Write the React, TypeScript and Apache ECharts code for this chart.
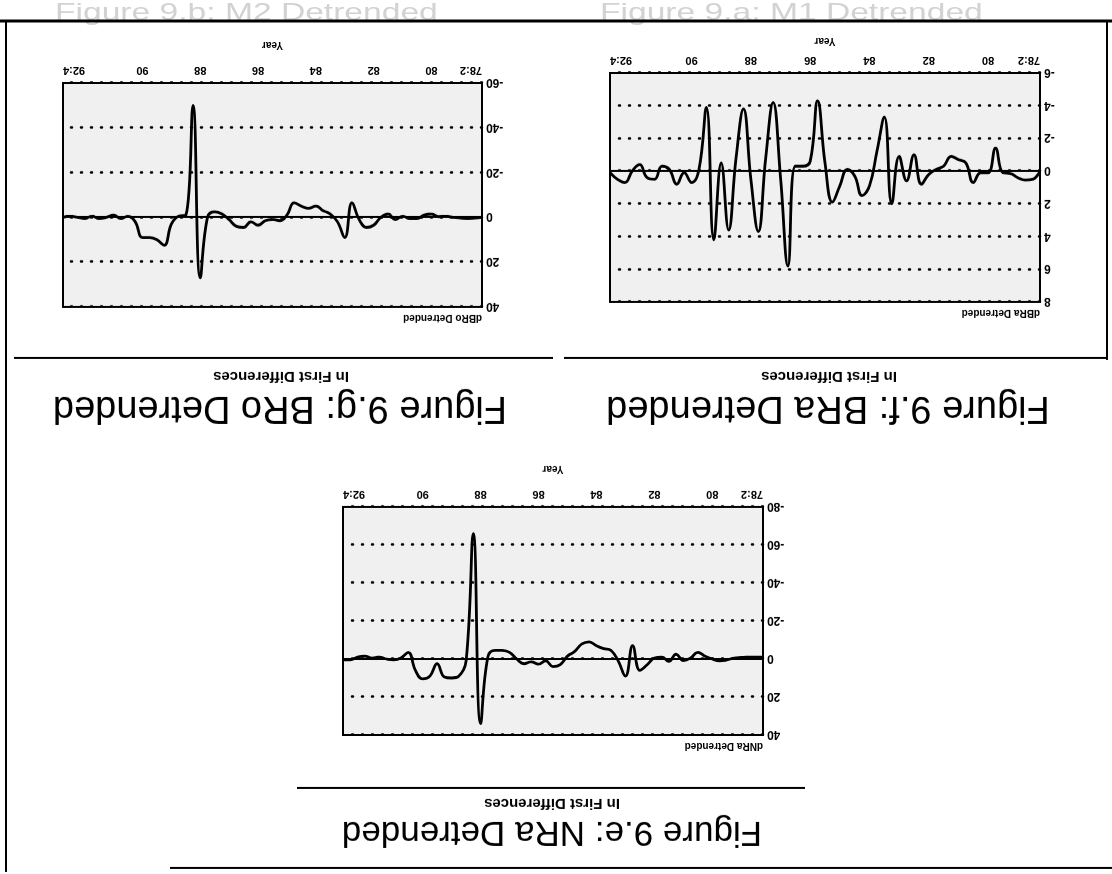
import React, { useEffect, useRef } from "react";
import * as echarts from "echarts";

// Quarterly categories 78:2 .. 92:4
const quarters: string[] = [];
for (let y = 78; y <= 92; y++) {
  for (let q = 1; q <= 4; q++) {
    if (y === 78 && q < 2) continue;
    quarters.push(`${y}:${q}`);
  }
}
const tickLabels = ["78:2", "80", "82", "84", "86", "88", "90", "92:4"];

const nraValues = [
  -1, -1, -1, -0.8, -0.5, 0.5, 1, 0, -1.5, -3.5,
  -0.5, 0.8, -2.5, 1.2, -1, -0.5, 3, 6, -7, 9,
  1, -4.5, -5.5, -7, -9, -8, -4, -1.5, 3, 4,
  1, 2.7, 1.5, 2.5, 0, -3.5, -4.5, -4.5, -1, 34,
  -66, 1, 9, 10, 9.5, 2.5, 9, 10.5, 6, -3.5,
  -0.5, 0.5, 0, -1, -0.5, -1.5, -1, 0.5, 0.5,
];

const braValues = [
  0.0, 0.5, 0.55, 0.4, 0.15, 0.1, -1.4, 0.1, 0.1, 0.7,
  -0.5, -0.7, -0.9, -0.3, -0.1, 0.2, 0.8, -1.0, 0.6, -0.9,
  2.0, -3.3, -1.2, 0.9, 1.5, 0.3, -0.1, 0.9, 1.9, -0.5,
  -4.3, -0.6, -0.3, -0.3, 5.8, 0.4, -4.2, -0.8, 3.7, 0.5,
  -3.8, -0.8, 3.6, -0.5, 4.2, -3.9, -0.1, 0.7, 0.1, 0.8,
  -0.1, -0.3, 0.5, 0.4, -0.4, 0.0, 0.7, 0.5, 0.1,
];

const broValues = [
  0, 0.3, 0.5, 0.3, 0, -0.5, -0.3, -1.5, -1.0, 0.5,
  0.5, -0.5, 1.0, -1.5, 0, 3.5, 4.5, 1, -6.5, 9,
  2, -1.5, -3, -5, -4, -5, -6.5, -1, 1.5, 1,
  1.5, 3.5, 2, 4.5, 4, 1, -1.5, -2.5, 0, 27,
  -50, -1, -0.5, 3, 12.5, 10, 9, 9, 2, -0.5,
  0.5, -1, 0, 0.5, -0.5, 0.5, 0, -0.5, 0,
];

const FONT = '"Liberation Sans", Arial, Helvetica, sans-serif';

const qLabel = (v: string) => (v.endsWith(":1") ? v.split(":")[0] : v);

function makeAxes(
  gridIndex: number,
  yName: string,
  min: number,
  max: number,
  interval: number,
  yearGap: number
) {
  const xAxis = {
    type: "category",
    gridIndex,
    data: quarters,
    boundaryGap: false,
    axisLine: { show: false },
    axisTick: { show: false },
    splitLine: { show: false },
    axisLabel: {
      interval: (_i: number, v: string) => tickLabels.includes(qLabel(v)),
      formatter: (v: string) => qLabel(v),
      color: "#000",
      fontFamily: FONT,
      fontWeight: "bold",
      fontSize: 11,
      margin: 6,
      alignMinLabel: "left",
      alignMaxLabel: "right",
    },
    name: "Year",
    nameLocation: "middle",
    nameGap: yearGap,
    nameTextStyle: { color: "#000", fontFamily: FONT, fontWeight: "bold", fontSize: 10 },
  };
  const yAxis = {
    type: "value",
    gridIndex,
    min,
    max,
    interval,
    axisLine: { show: false },
    axisTick: { show: false },
    axisLabel: {
      color: "#000",
      fontFamily: FONT,
      fontWeight: "bold",
      fontSize: 12,
      margin: 4,
    },
    splitLine: {
      show: true,
      lineStyle: { color: "#000", width: 2.5, type: [1, 9], cap: "round" },
    },
    name: yName,
    nameLocation: "end",
    nameGap: 7,
    nameTextStyle: {
      color: "#000",
      fontFamily: FONT,
      fontWeight: "bold",
      fontSize: 10,
      align: "left",
    },
  };
  return { xAxis, yAxis };
}

function makeSeries(idx: number, data: number[]) {
  return {
    type: "line",
    xAxisIndex: idx,
    yAxisIndex: idx,
    data,
    smooth: 0.45,
    showSymbol: false,
    symbol: "none",
    lineStyle: { color: "#000", width: 2.8 },
    z: 3,
    markLine: {
      silent: true,
      symbol: ["none", "none"],
      label: { show: false },
      lineStyle: { color: "#000", width: 2, type: "solid" },
      data: [{ yAxis: 0 }],
    },
  };
}

const txt = (
  x: number,
  y: number,
  text: string,
  size: number,
  weight: string,
  align = "center"
) => ({
  type: "text",
  x,
  y,
  style: {
    text,
    fill: "#000",
    fontFamily: FONT,
    fontSize: size,
    fontWeight: weight,
    align,
    verticalAlign: "middle",
  },
});

// faint text showing through from the reverse side of the scanned sheet
const ghost = (x: number, text: string) => ({
  type: "text",
  x,
  y: 874,
  rotation: Math.PI,
  scaleX: 1.4,
  style: {
    text,
    fill: "#d2d2d2",
    fontFamily: FONT,
    fontSize: 24,
    align: "left",
    verticalAlign: "top",
  },
});

const ln = (x1: number, y1: number, x2: number, y2: number, w = 2) => ({
  type: "line",
  shape: { x1, y1, x2, y2 },
  style: { stroke: "#000", lineWidth: w },
});

export default function App() {
  const ref = useRef<HTMLDivElement>(null);
  useEffect(() => {
    if (!ref.current) return;
    const chart = echarts.init(ref.current, undefined, { renderer: "svg" });
    const a0 = makeAxes(0, "dNRa Detrended", -80, 40, 20, 32);
    const a1 = makeAxes(1, "dBRa Detrended", -6, 8, 2, 26);
    const a2 = makeAxes(2, "dBRo Detrended", -60, 40, 20, 32);
    const gridStyle = {
      show: true,
      borderColor: "#000",
      borderWidth: 2,
      backgroundColor: "#f0f0f0",
    };
    chart.setOption({
      animation: false,
      backgroundColor: "#fff",
      grid: [
        { left: 349, top: 139, width: 420, height: 228, ...gridStyle },
        { left: 72, top: 572, width: 430, height: 229, ...gridStyle },
        { left: 630, top: 567, width: 419, height: 224, ...gridStyle },
      ],
      xAxis: [a0.xAxis, a1.xAxis, a2.xAxis],
      yAxis: [a0.yAxis, a1.yAxis, a2.yAxis],
      series: [makeSeries(0, nraValues), makeSeries(1, braValues), makeSeries(2, broValues)],
      graphic: {
        elements: [
          ghost(512, "Figure 9.a: M1 Detrended"),
          ghost(1057, "Figure 9.b: M2 Detrended"),
          // page frame
          ln(0, 6, 942, 6, 2),
          ln(1106, 2, 1106, 854, 2),
          ln(5, 514, 5, 854, 2),
          ln(0, 853, 1112, 853, 3),
          // top figure
          txt(560, 39, "Figure 9.e: NRa Detrended", 35, "normal"),
          txt(560, 69, "In First Differences", 15, "bold"),
          ln(307, 86, 815, 86, 2),
          // bottom row
          txt(284, 464, "Figure 9.f: BRa Detrended", 38, "normal"),
          txt(283, 496, "In First Differences", 15, "bold"),
          ln(6, 516, 548, 516, 2),
          txt(832, 464, "Figure 9.g: BRo Detrended", 38, "normal"),
          txt(831, 496, "In First Differences", 15, "bold"),
          ln(559, 516, 1098, 516, 2),
        ],
      },
    });
    return () => chart.dispose();
  }, []);
  return (
    <div
      style={{
        position: "fixed",
        left: 0,
        top: 0,
        width: 1112,
        height: 874,
        background: "#fff",
        transform: "rotate(180deg)",
        transformOrigin: "50% 50%",
      }}
    >
      <div ref={ref} style={{ width: 1112, height: 874 }} />
    </div>
  );
}
